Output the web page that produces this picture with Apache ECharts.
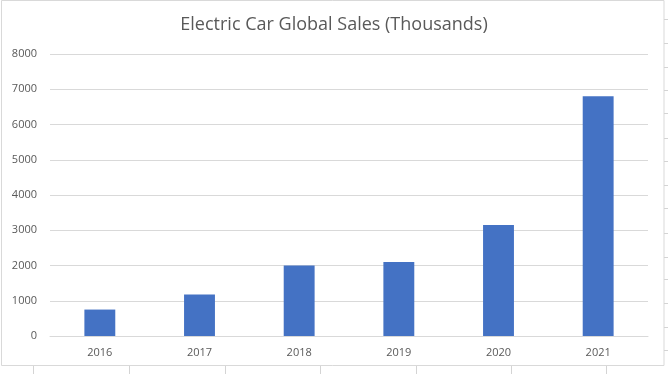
<!DOCTYPE html>
<html>
<head>
<meta charset="utf-8">
<script src="https://cdn.jsdelivr.net/npm/echarts@6/dist/echarts.min.js"></script>
<style>
html,body{margin:0;padding:0;background:#fff;}
#chart{width:668px;height:374px;}
</style>
</head>
<body>
<div id="chart"></div>
<script>
const categories = ['2016', '2017', '2018', '2019', '2020', '2021'];
const salesValues = [750, 1180, 2000, 2100, 3150, 6800];
const yTicks = [0, 1000, 2000, 3000, 4000, 5000, 6000, 7000, 8000];
const titleText = 'Electric Car Global Sales (Thousands)';

const sheetColX = [33, 129, 225, 320, 416, 511, 606];
const sheetRowY = [19, 43, 67, 90, 113, 138, 161, 185, 208, 233, 257, 279, 303, 327, 350];

const chart = echarts.init(document.getElementById('chart'), null, {renderer: 'canvas'});

const graphics = [
  {type: 'rect', shape: {x: 1.5, y: 0.5, width: 662.5, height: 365}, style: {fill: 'none', stroke: '#d9d9d9', lineWidth: 1}, z: -1}
];
sheetColX.forEach(x => graphics.push({type: 'line', shape: {x1: x + 0.5, y1: 366, x2: x + 0.5, y2: 374}, style: {stroke: '#d4d4d4', lineWidth: 1}}));
sheetRowY.forEach(y => graphics.push({type: 'line', shape: {x1: 664, y1: y + 0.5, x2: 668, y2: y + 0.5}, style: {stroke: '#d4d4d4', lineWidth: 1}}));

chart.setOption({
  animation: false,
  backgroundColor: '#ffffff',
  title: {
    text: titleText,
    left: 'center',
    top: 11,
    textStyle: {fontFamily: 'Open Sans', fontSize: 18, fontWeight: 'normal', color: '#595959'}
  },
  grid: {left: 50, right: 20, top: 54, bottom: 38, containLabel: false},
  xAxis: {
    type: 'category',
    data: categories,
    axisLine: {show: true, lineStyle: {color: '#d9d9d9', width: 1}},
    axisTick: {show: false},
    axisLabel: {fontFamily: 'Open Sans', fontSize: 11, color: '#595959', margin: 11}
  },
  yAxis: {
    type: 'value',
    min: yTicks[0],
    max: yTicks[yTicks.length - 1],
    interval: 1000,
    axisLine: {show: false},
    axisTick: {show: false},
    splitLine: {show: true, lineStyle: {color: '#d9d9d9', width: 1}},
    axisLabel: {fontFamily: 'Open Sans', fontSize: 11, color: '#595959', margin: 13, formatter: v => String(v)}
  },
  series: [{
    type: 'bar',
    data: salesValues,
    barWidth: '31%',
    itemStyle: {color: '#4472C4'}
  }],
  graphic: graphics
});
</script>
</body>
</html>
